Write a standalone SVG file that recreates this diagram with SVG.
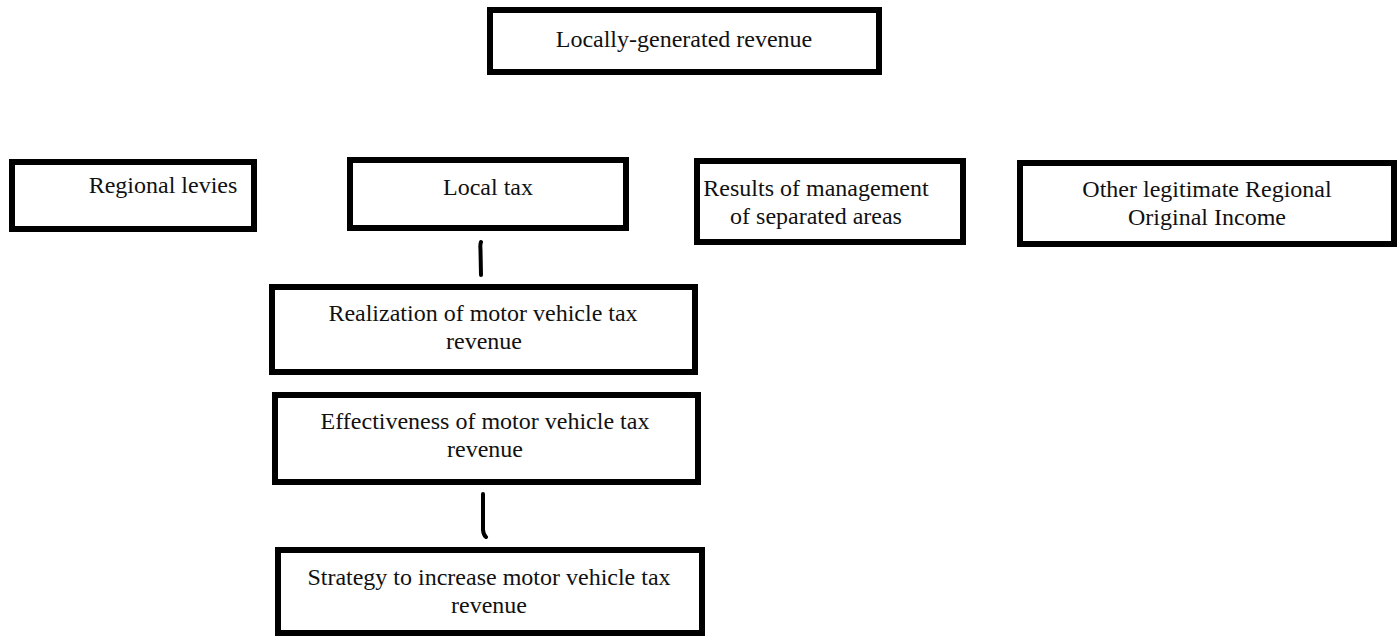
<svg xmlns="http://www.w3.org/2000/svg" width="1400" height="639" viewBox="0 0 1400 639">
<style>
.box{fill:#fff;stroke:#000;stroke-width:6}
.t{font-family:"Liberation Serif","Times New Roman",serif;font-size:24px;fill:#111;text-anchor:middle}
.c{fill:none;stroke:#000;stroke-width:4;stroke-linecap:round}
</style>
<rect width="1400" height="639" fill="#fff"/>
<g id="connectors">
<path class="c" d="M481,242 Q480,244 480.5,250 L481,275"/>
<path class="c" d="M483,494 L483,530 Q483.5,535 486,537"/>
</g>
<g id="n-locally">
<rect class="box" x="490" y="10" width="389" height="62"/>
<text class="t" x="684" y="47">Locally-generated revenue</text>
</g>
<g id="n-levies">
<rect class="box" x="12" y="162" width="242" height="67"/>
<text class="t" x="163" y="193">Regional levies</text>
</g>
<g id="n-localtax">
<rect class="box" x="350" y="160" width="276" height="68"/>
<text class="t" x="488" y="195">Local tax</text>
</g>
<g id="n-results">
<rect class="box" x="697" y="161" width="266" height="81"/>
<text class="t" x="816" y="196">Results of management</text>
<text class="t" x="816" y="224">of separated areas</text>
</g>
<g id="n-other">
<rect class="box" x="1020" y="163" width="374" height="81"/>
<text class="t" x="1207" y="197">Other legitimate Regional</text>
<text class="t" x="1207" y="225">Original Income</text>
</g>
<g id="n-realization">
<rect class="box" x="272" y="287" width="423" height="85"/>
<text class="t" x="483" y="321">Realization of motor vehicle tax</text>
<text class="t" x="484" y="349">revenue</text>
</g>
<g id="n-effectiveness">
<rect class="box" x="275" y="395" width="423" height="87"/>
<text class="t" x="485" y="429">Effectiveness of motor vehicle tax</text>
<text class="t" x="485" y="457">revenue</text>
</g>
<g id="n-strategy">
<rect class="box" x="278" y="550" width="424" height="83"/>
<text class="t" x="489" y="585">Strategy to increase motor vehicle tax</text>
<text class="t" x="489" y="613">revenue</text>
</g>
</svg>
